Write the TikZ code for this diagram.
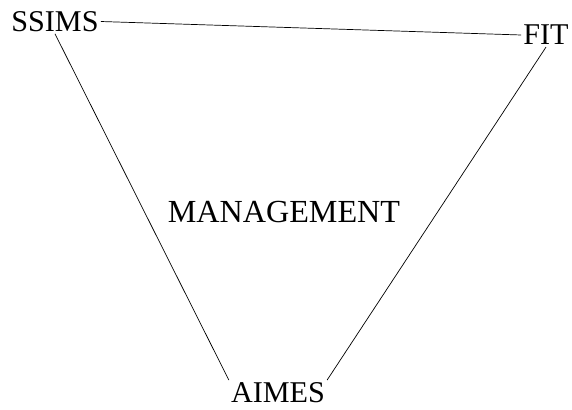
\documentclass[tikz,border=0pt]{standalone}
\usepackage{fontspec}
\setmainfont{Liberation Serif}
\usepackage{tikz}

\begin{document}
\begin{tikzpicture}[
    corner/.style={inner sep=2pt, font=\fontsize{30}{32}\selectfont},
    centre/.style={inner sep=2pt, font=\fontsize{32}{34}\selectfont},
    edge/.style={line width=0.7pt}
]
\useasboundingbox (0,0) rectangle (20,14.301);

% Corners of the triangle
\node[corner] (ssims) at (1.923,13.549) {SSIMS};
\node[corner] (fit) at (19.091,13.077) {FIT};
\node[corner] (aimes) at (9.720,0.580) {AIMES};

% Middle
\node[centre] (management) at (9.930,6.871) {MANAGEMENT};

% Sides
\draw[edge] (ssims.east) -- (fit.west);
\draw[edge] (ssims.south) -- (aimes.north west);
\draw[edge] (fit.south) -- (aimes.north east);

\end{tikzpicture}
\end{document}
